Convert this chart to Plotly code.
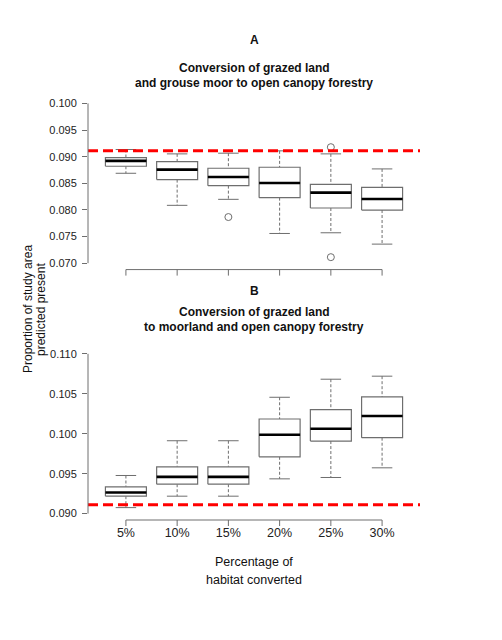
import plotly.graph_objects as go
from plotly.subplots import make_subplots

# habitat converted (x categories)
pct_labels = ["5%", "10%", "15%", "20%", "25%", "30%"]
pos = [1, 2, 3, 4, 5, 6]

baseline = 0.0911

# panel A: grazed land + grouse moor -> open canopy forestry
a_low = [0.08688, 0.08086, 0.08199, 0.07558, 0.07571, 0.07358]
a_q1 = [0.08820, 0.08569, 0.08456, 0.08230, 0.08036, 0.07998]
a_med = [0.08920, 0.08757, 0.08619, 0.08506, 0.08324, 0.08205]
a_q3 = [0.08983, 0.08908, 0.08782, 0.08801, 0.08481, 0.08425]
a_high = [0.09134, 0.09052, 0.09065, 0.09109, 0.09052, 0.08770]
a_out_x = [3, 5, 5]
a_out_y = [0.07866, 0.09178, 0.07113]

# panel B: grazed land -> moorland + open canopy forestry
b_low = [0.09075, 0.09218, 0.09218, 0.09435, 0.09452, 0.09573]
b_q1 = [0.09218, 0.09368, 0.09368, 0.09711, 0.09908, 0.09950]
b_med = [0.09264, 0.09460, 0.09460, 0.09987, 0.10063, 0.10222]
b_q3 = [0.09335, 0.09586, 0.09586, 0.10184, 0.10301, 0.10460]
b_high = [0.09477, 0.09912, 0.09912, 0.10456, 0.10682, 0.10720]

a_ticks = [0.070, 0.075, 0.080, 0.085, 0.090, 0.095, 0.100]
b_ticks = [0.090, 0.095, 0.100, 0.105, 0.110]

BOXW = 0.4     # half box width
CAPW = 0.2     # half staple width
GREY = "#6e6e6e"
FONT = "Liberation Sans, Arial, sans-serif"
PANEL_H = 172  # px height of each panel, used for tick length

fig = make_subplots(rows=2, cols=1, vertical_spacing=0.184)


def add_boxes(row, low, q1, med, q3, high):
    for i, x in enumerate(pos):
        # whiskers
        fig.add_trace(go.Scatter(x=[x, x, None, x, x], y=[high[i], q3[i], None, q1[i], low[i]],
                                 mode="lines", line=dict(color=GREY, width=1, dash="3px,2px"),
                                 hoverinfo="skip", showlegend=False), row=row, col=1)
        # staples
        fig.add_trace(go.Scatter(x=[x - CAPW, x + CAPW, None, x - CAPW, x + CAPW],
                                 y=[high[i], high[i], None, low[i], low[i]],
                                 mode="lines", line=dict(color=GREY, width=1),
                                 hoverinfo="skip", showlegend=False), row=row, col=1)
        # box
        fig.add_trace(go.Scatter(x=[x - BOXW, x + BOXW, x + BOXW, x - BOXW, x - BOXW],
                                 y=[q1[i], q1[i], q3[i], q3[i], q1[i]],
                                 mode="lines", fill="toself", fillcolor="white",
                                 line=dict(color=GREY, width=1.2),
                                 hoverinfo="skip", showlegend=False), row=row, col=1)
        # median
        fig.add_trace(go.Scatter(x=[x - BOXW, x + BOXW], y=[med[i], med[i]],
                                 mode="lines", line=dict(color="black", width=2.6),
                                 hoverinfo="skip", showlegend=False), row=row, col=1)


add_boxes(1, a_low, a_q1, a_med, a_q3, a_high)
fig.add_trace(go.Scatter(x=a_out_x, y=a_out_y, mode="markers",
                         marker=dict(symbol="circle-open", size=7, color=GREY, line=dict(width=1)),
                         hoverinfo="skip", showlegend=False), row=1, col=1)
add_boxes(2, b_low, b_q1, b_med, b_q3, b_high)

# reference line, R style axis lines (only across tick range) and x ticks
for xa, ya, ylo, yhi in [("x", "y", 0.070, 0.100), ("x2", "y2", 0.090, 0.110)]:
    fig.add_shape(type="line", xref=xa + " domain", yref=ya, x0=0, x1=1, y0=baseline, y1=baseline,
                  line=dict(color="red", width=3, dash="10px,5px"))
    fig.add_shape(type="line", xref=xa, yref=ya + " domain", x0=pos[0], x1=pos[-1], y0=0, y1=0,
                  line=dict(color=GREY, width=1))
    fig.add_shape(type="line", xref=xa + " domain", yref=ya, x0=0, x1=0, y0=ylo, y1=yhi,
                  line=dict(color=GREY, width=1))
    for x in pos:
        fig.add_shape(type="line", xref=xa, yref=ya + " domain", x0=x, x1=x, y0=0, y1=-6 / PANEL_H,
                      line=dict(color=GREY, width=1))

axis_common = dict(showgrid=False, zeroline=False, showline=False, tickcolor=GREY,
                   tickfont=dict(family=FONT, size=11, color="#222"))

fig.update_xaxes(range=[0.26, 6.74], tickvals=pos, ticks="", ticklabelstandoff=3, **axis_common)
fig.update_xaxes(ticktext=[""] * 6, row=1, col=1)
fig.update_xaxes(ticktext=pct_labels, tickfont=dict(family=FONT, size=12.5, color="#222"), row=2, col=1)
fig.update_yaxes(ticks="outside", ticklen=5, ticklabelstandoff=3, **axis_common)
fig.update_yaxes(range=[0.0688, 0.1012], tickvals=a_ticks, ticktext=["%.3f" % v for v in a_ticks], row=1, col=1)
fig.update_yaxes(range=[0.0892, 0.1108], tickvals=b_ticks, ticktext=["%.3f" % v for v in b_ticks], row=2, col=1)

txt = dict(family=FONT, color="#111")
notes = [
    ("<b>A</b>", 40, 12),
    ("<b>Conversion of grazed land</b>", 68, 12),
    ("<b>and grouse moor to open canopy forestry</b>", 83, 12),
    ("<b>B</b>", 291, 12),
    ("<b>Conversion of grazed land</b>", 312, 12),
    ("<b>to moorland and open canopy forestry</b>", 327, 12),
    ("Percentage of", 562, 12.5),
    ("habitat converted", 580, 12.5),
]
for text, ypx, size in notes:
    fig.add_annotation(text=text, xref="paper", yref="paper", x=0.5, y=(520 - ypx) / 423,
                       showarrow=False, xanchor="center", yanchor="middle",
                       font=dict(size=size, **txt))
for text, xpx in [("Proportion of study area", 28), ("predicted present", 41)]:
    fig.add_annotation(text=text, xref="paper", yref="paper", x=(xpx - 88) / 332, y=(520 - 309) / 423,
                       showarrow=False, xanchor="center", yanchor="middle", textangle=-90,
                       font=dict(size=12, **txt))

fig.update_layout(width=502, height=640, margin=dict(l=80, r=90, t=89, b=128),
                  plot_bgcolor="white", paper_bgcolor="white", showlegend=False)
fig.write_html("out.html")
